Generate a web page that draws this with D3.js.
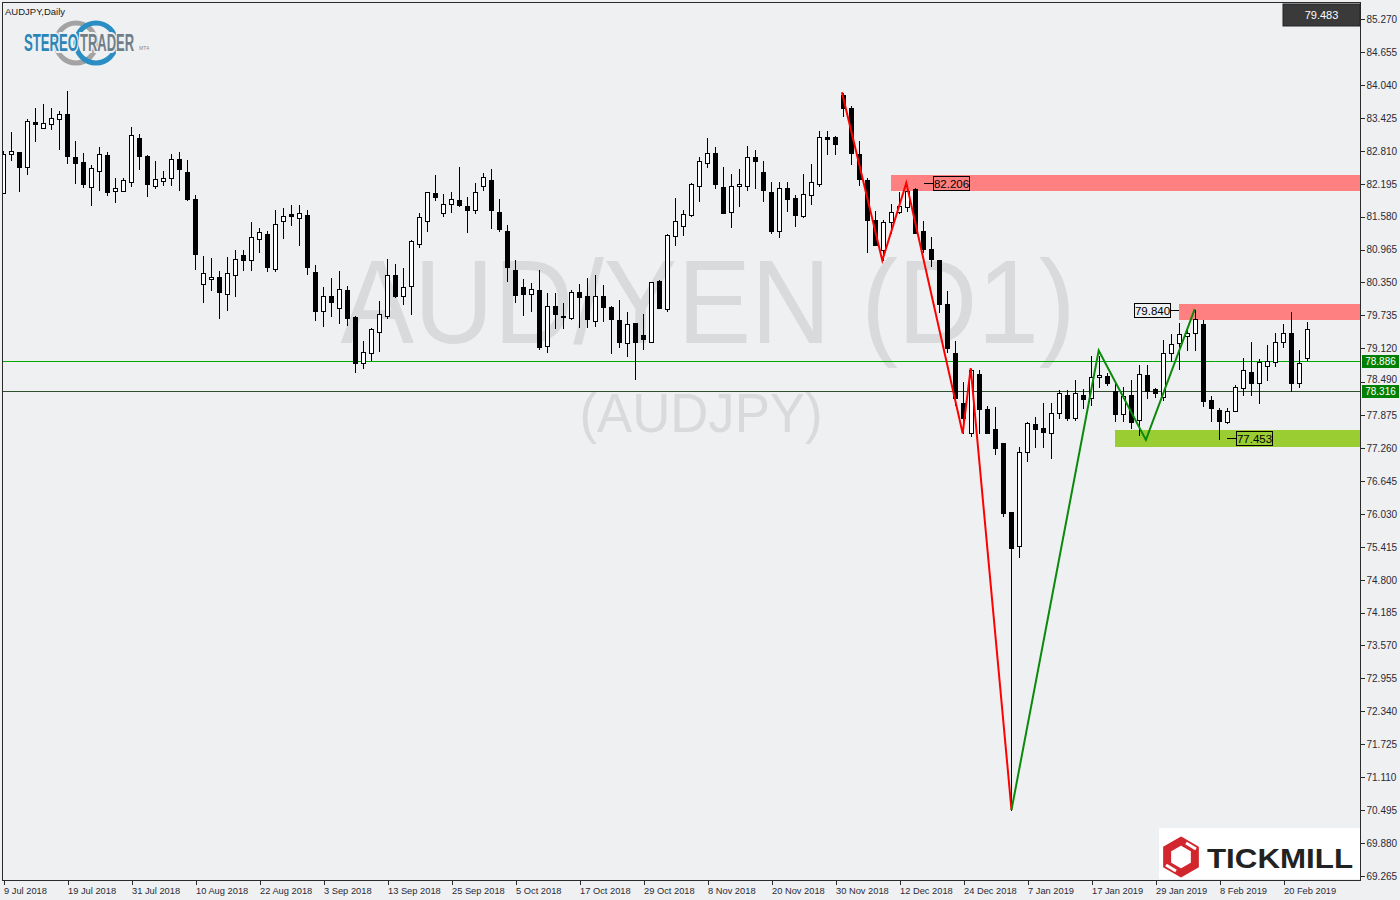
<!DOCTYPE html>
<html><head><meta charset="utf-8">
<script src="https://cdn.jsdelivr.net/npm/d3@7"></script>
<style>
html,body{margin:0;padding:0;background:#eff0f2;}
svg{display:block;font-family:"Liberation Sans",Arial,sans-serif;}
</style></head><body>
<svg id="chart" width="1400" height="900"></svg>
<script>
const symbolTitle = "AUDJPY,Daily";
const watermarkMain = "AUD/YEN (D1)";
const watermarkSub = "(AUDJPY)";
const dateTickLabels = ["9 Jul 2018","19 Jul 2018","31 Jul 2018","10 Aug 2018","22 Aug 2018","3 Sep 2018","13 Sep 2018","25 Sep 2018","5 Oct 2018","17 Oct 2018","29 Oct 2018","8 Nov 2018","20 Nov 2018","30 Nov 2018","12 Dec 2018","24 Dec 2018","7 Jan 2019","17 Jan 2019","29 Jan 2019","8 Feb 2019","20 Feb 2019"];
const dateTickBars = [0,8,16,24,32,40,48,56,64,72,80,88,96,104,112,120,128,136,144,152,160];
const priceTickLabels = ["85.270","84.655","84.040","83.425","82.810","82.195","81.580","80.965","80.350","79.735","79.120","78.490","77.875","77.260","76.645","76.030","75.415","74.800","74.185","73.570","72.955","72.340","71.725","71.110","70.495","69.880","69.265"];

const openP = [82.02,82.74,82.79,82.50,83.35,83.23,83.30,83.40,83.50,82.69,82.60,82.14,82.44,82.73,82.05,82.05,82.22,83.04,82.72,82.16,
82.24,82.30,82.65,82.41,81.90,80.32,80.41,80.45,80.13,80.48,80.86,80.76,81.17,81.26,80.61,81.50,81.63,81.56,81.61,80.55,
79.82,80.10,79.88,80.21,79.70,78.84,79.03,79.43,79.73,80.48,80.09,80.29,81.06,81.49,82.02,81.64,81.81,81.89,81.77,81.71,
82.16,82.26,81.67,81.31,80.58,80.27,80.13,80.21,79.16,79.91,79.73,79.69,80.17,80.10,79.63,80.10,79.89,79.65,79.21,79.59,
79.37,79.24,80.37,79.86,81.22,81.40,81.61,82.16,82.59,82.77,82.13,81.66,82.15,82.16,82.69,82.41,82.03,81.32,82.11,81.93,
81.60,81.99,82.19,83.06,83.07,83.85,83.60,82.75,82.26,81.52,80.96,81.47,81.67,81.76,82.09,81.31,80.97,80.77,79.95,79.04,
78.09,77.53,78.64,77.98,77.61,77.35,76.06,75.42,77.18,77.70,77.64,77.53,77.91,78.25,77.82,78.25,78.19,78.58,78.60,78.32,
77.89,78.24,77.78,78.62,78.36,78.21,79.03,79.21,79.35,79.40,79.58,78.16,77.96,77.75,77.94,78.37,78.68,78.48,78.79,78.86,
79.24,79.41,78.48,78.94];
const highP = [82.82,83.18,82.79,83.42,83.63,83.70,83.62,83.57,83.94,83.01,82.79,82.57,82.90,82.81,82.32,82.32,83.27,83.15,82.75,82.64,
82.45,82.77,82.81,82.66,82.00,80.86,80.83,80.58,80.84,80.97,80.97,81.50,81.38,81.33,81.72,81.76,81.81,81.82,81.72,80.69,
80.28,80.45,80.58,80.30,79.74,79.28,79.52,80.02,80.81,80.71,80.63,81.16,81.67,82.03,82.38,82.02,82.05,82.53,81.97,82.22,
82.41,82.48,81.93,81.44,80.79,80.43,80.35,80.60,80.17,80.17,79.98,80.23,80.34,80.45,80.51,80.32,79.92,80.04,79.81,79.61,
79.78,80.38,80.42,81.27,81.95,81.72,82.23,82.71,83.07,82.90,82.53,82.39,82.49,82.92,82.84,82.64,82.24,82.24,82.24,82.00,
82.39,82.58,83.20,83.20,83.10,83.90,83.67,83.01,82.32,81.70,81.53,81.84,82.06,82.19,82.13,81.52,81.22,80.79,80.21,79.28,
78.51,78.75,78.73,78.06,78.05,77.35,76.06,77.30,77.76,77.86,78.11,78.12,78.36,78.36,78.54,78.37,79.00,79.00,78.67,78.53,
78.42,78.54,78.83,78.83,78.40,79.29,79.40,79.62,79.50,79.85,79.66,78.25,78.02,78.02,78.45,78.96,79.26,78.93,79.20,79.42,
79.60,79.82,79.10,79.63];
const lowP = [82.02,82.64,82.06,82.38,83.00,83.23,83.22,82.85,82.59,82.21,82.14,81.80,82.08,81.98,81.86,82.05,82.16,82.47,81.97,82.12,
82.17,82.17,82.08,81.89,80.61,79.99,80.21,79.69,79.84,80.10,80.58,80.58,80.91,80.57,80.57,81.18,81.43,81.05,80.50,79.64,
79.53,79.73,79.60,79.56,78.68,78.76,78.90,79.07,79.68,80.08,79.95,79.77,81.02,81.32,81.89,81.60,81.67,81.77,81.30,81.64,
82.07,81.37,81.32,80.38,79.99,79.75,79.82,79.10,79.06,79.49,79.49,79.67,79.51,79.51,79.53,79.63,79.04,79.15,78.98,78.55,
79.10,79.24,79.87,79.81,81.04,81.24,81.60,81.88,82.51,82.12,81.65,81.39,81.78,82.08,82.12,81.88,81.27,81.19,81.69,81.41,
81.58,81.82,82.16,82.75,82.74,83.46,82.57,82.17,80.92,81.04,80.77,81.27,81.65,81.69,81.27,80.92,80.66,79.80,79.05,78.06,
77.53,77.48,77.53,77.53,77.15,75.98,70.50,75.23,77.02,77.28,77.28,77.08,77.81,77.78,77.78,78.01,78.06,78.40,78.44,77.77,
77.77,77.64,77.51,78.20,78.21,78.16,78.88,78.74,79.09,79.09,78.04,77.76,77.43,77.73,77.94,78.24,78.24,78.09,78.52,78.79,
79.15,78.33,78.40,78.90];
const closeP = [82.75,82.80,82.51,83.36,83.31,83.32,83.42,83.49,82.72,82.59,82.19,82.48,82.74,82.04,82.11,82.26,83.10,82.72,82.19,82.28,
82.30,82.65,82.46,81.91,80.88,80.52,80.45,80.17,80.52,80.79,80.77,81.19,81.29,80.64,81.44,81.60,81.60,81.65,80.63,79.82,
80.10,79.99,80.22,79.69,78.84,79.06,79.48,79.77,80.48,80.10,80.27,81.12,81.57,82.03,81.95,81.81,81.90,81.80,81.71,82.03,
82.31,81.71,81.35,80.64,80.12,80.14,80.22,79.15,79.91,79.77,79.70,80.17,80.07,79.66,80.10,79.90,79.67,79.24,79.57,79.24,
79.30,80.35,79.88,81.23,81.49,81.62,82.18,82.61,82.76,82.18,81.65,82.15,82.18,82.69,82.62,82.08,81.32,82.11,81.90,81.61,
82.00,82.22,83.06,83.03,82.94,83.61,82.77,82.29,81.51,81.04,81.47,81.67,81.78,82.06,81.28,80.97,80.79,79.95,79.13,78.20,
77.81,78.72,77.99,77.54,77.25,76.05,75.39,77.19,77.72,77.62,77.55,77.91,78.28,77.82,78.28,78.18,78.58,78.62,78.48,77.89,
78.23,77.74,78.64,78.33,78.28,79.03,79.20,79.39,79.41,79.66,78.14,78.00,77.77,77.94,78.39,78.72,78.48,78.86,78.89,79.24,
79.41,78.48,78.85,79.483];

const lastPrice = 79.483;
const levelLines = [78.886, 78.316];
const zoneStartBars = [110.9, 146.9, 138.9];
const zoneHighs = [82.36, 79.95, 77.60];
const zoneLows = [82.05, 79.65, 77.28];
const markValues = [82.206, 79.840, 77.453];
const markBars = [115, 146.9, 153];
const redZigBars = [104.8, 109.85, 112.85, 119.9, 120.9, 126];
const redZigPrices = [83.90, 80.76, 82.21, 77.53, 78.75, 70.50];
const greenZigBars = [126, 136.9, 142.8, 148.9];
const greenZigPrices = [70.50, 79.08, 77.41, 79.85];

// ---------- drawing ----------
const BG = "#eff0f2";
const plotL = 2, plotR = 1360, plotT = 2, plotB = 880;
const svg = d3.select("#chart");
const x = d3.scaleLinear().domain([0, 169]).range([3.5, 1355.5]);
const y = d3.scaleLinear().domain([69.265, 85.270]).range([876, 19]);

svg.append("rect").attr("width", 1400).attr("height", 900).attr("fill", BG);
svg.append("defs").append("clipPath").attr("id", "plotclip")
  .append("rect").attr("x", plotL).attr("y", plotT).attr("width", plotR - plotL).attr("height", plotB - plotT);

const plot = svg.append("g").attr("clip-path", "url(#plotclip)");

// watermark
plot.append("text").attr("x", 708).attr("y", 343).attr("text-anchor", "middle")
  .attr("font-size", 119).attr("fill", "#d9dadc").attr("textLength", 735).attr("lengthAdjust", "spacingAndGlyphs")
  .text(watermarkMain);
plot.append("text").attr("x", 701).attr("y", 432).attr("text-anchor", "middle")
  .attr("font-size", 56).attr("fill", "#d9dadc").attr("textLength", 243).attr("lengthAdjust", "spacingAndGlyphs")
  .text(watermarkSub);

// zones
const zoneColors = ["#ff8080", "#ff8080", "#9acd32"];
zoneStartBars.forEach((b, i) => {
  plot.append("rect").attr("x", Math.round(x(b))).attr("y", Math.round(y(zoneHighs[i])))
    .attr("width", plotR - Math.round(x(b))).attr("height", Math.round(y(zoneLows[i])) - Math.round(y(zoneHighs[i])))
    .attr("fill", zoneColors[i]);
});

// level lines
const levelColors = ["#00a800", "#2f4f2f"];
levelLines.forEach((v, i) => {
  const yy = Math.round(y(v)) + 0.5;
  plot.append("line").attr("x1", plotL).attr("x2", plotR).attr("y1", yy).attr("y2", yy)
    .attr("stroke", levelColors[i]).attr("stroke-width", 1).attr("shape-rendering", "crispEdges");
});

// candles
const bars = openP.map((o, i) => ({i, o, h: highP[i], l: lowP[i], c: closeP[i]}));
const cg = plot.append("g").attr("shape-rendering", "crispEdges");
cg.selectAll("line.wick").data(bars).join("line").attr("class", "wick")
  .attr("x1", d => x(d.i)).attr("x2", d => x(d.i))
  .attr("y1", d => Math.round(y(d.h)) + 0.5).attr("y2", d => Math.round(y(d.l)) + 0.5)
  .attr("stroke", "#000").attr("stroke-width", 1);
cg.selectAll("rect.body").data(bars).join("rect").attr("class", "body")
  .attr("x", d => x(d.i) - 2).attr("width", 4)
  .attr("y", d => Math.round(y(Math.max(d.o, d.c))) + 0.5)
  .attr("height", d => Math.max(1, Math.round(y(Math.min(d.o, d.c))) - Math.round(y(Math.max(d.o, d.c)))))
  .attr("fill", d => d.c >= d.o ? "#ffffff" : "#000000")
  .attr("stroke", "#000").attr("stroke-width", 1);

// zigzags
const zz = d3.line().x(d => x(d[0])).y(d => y(d[1]));
plot.append("path").attr("d", zz(redZigBars.map((b, i) => [b, redZigPrices[i]])))
  .attr("fill", "none").attr("stroke", "#ff0000").attr("stroke-width", 2);
plot.append("path").attr("d", zz(greenZigBars.map((b, i) => [b, greenZigPrices[i]])))
  .attr("fill", "none").attr("stroke", "#0a8a0a").attr("stroke-width", 2);

// value marks
const markSide = [1, -1, 1];
markValues.forEach((v, i) => {
  const yy = Math.round(y(v)) + 0.5;
  const x0 = Math.round(x(markBars[i]));
  const bw = 36, bh = 14, ll = 9;
  const lineEnd = x0 + markSide[i] * ll;
  plot.append("line").attr("x1", x0).attr("x2", lineEnd).attr("y1", yy).attr("y2", yy)
    .attr("stroke", "#000").attr("stroke-width", 1).attr("shape-rendering", "crispEdges");
  const bx = markSide[i] > 0 ? lineEnd : lineEnd - bw;
  plot.append("rect").attr("x", bx + 0.5).attr("y", yy - bh / 2).attr("width", bw).attr("height", bh)
    .attr("fill", "none").attr("stroke", "#000").attr("stroke-width", 1).attr("shape-rendering", "crispEdges");
  plot.append("text").attr("x", bx + bw / 2 + 0.5).attr("y", yy + 4).attr("text-anchor", "middle")
    .attr("font-size", 11.5).attr("fill", "#000").text(v.toFixed(3));
});

// frame
svg.append("rect").attr("x", plotL + 0.5).attr("y", plotT + 0.5).attr("width", plotR - plotL).attr("height", plotB - plotT)
  .attr("fill", "none").attr("stroke", "#2b2b2b").attr("stroke-width", 1).attr("shape-rendering", "crispEdges");

// right axis
const ra = svg.append("g").attr("transform", `translate(${plotR + 0.5},0)`)
  .call(d3.axisRight(y).tickValues(priceTickLabels.map(Number)).tickFormat((d, i) => priceTickLabels[i]).tickSize(4).tickPadding(2));
ra.select(".domain").remove();
ra.selectAll("line").attr("stroke", "#2b2b2b").attr("shape-rendering", "crispEdges");
ra.selectAll("text").attr("font-size", 10).attr("fill", "#2a2a35").attr("font-family", "Liberation Sans, Arial, sans-serif")
  .attr("dy", "0.34em").filter(function () { return this.textContent === "78.490"; }).attr("dy", "0.0em");

// level labels on axis
levelLines.forEach((v, i) => {
  const yy = y(v);
  svg.append("rect").attr("x", plotR + 2).attr("y", Math.round(yy) - 6).attr("width", 37).attr("height", 13)
    .attr("fill", "#008000");
  svg.append("text").attr("x", plotR + 20.5).attr("y", Math.round(yy) + 4).attr("text-anchor", "middle")
    .attr("font-size", 10).attr("fill", "#ffffff").text(v.toFixed(3));
});

// last price box
svg.append("rect").attr("x", 1283).attr("y", 4).attr("width", 77).attr("height", 22).attr("fill", "#3a3a3a")
  .attr("stroke", "#222");
svg.append("text").attr("x", 1321.5).attr("y", 19).attr("text-anchor", "middle").attr("font-size", 11)
  .attr("fill", "#ffffff").text(lastPrice.toFixed(3));

// bottom axis
const ba = svg.append("g").attr("transform", `translate(0,${plotB + 0.5})`)
  .call(d3.axisBottom(x).tickValues(dateTickBars).tickFormat((d, i) => dateTickLabels[i]).tickSize(4).tickPadding(3));
ba.select(".domain").remove();
ba.selectAll("line").attr("stroke", "#2b2b2b").attr("shape-rendering", "crispEdges");
ba.selectAll("text").attr("text-anchor", "start").attr("x", 0).attr("font-size", 9.3)
  .attr("fill", "#2a2a35").attr("font-family", "Liberation Sans, Arial, sans-serif");

// title
svg.append("text").attr("x", 5).attr("y", 15).attr("font-size", 9.5).attr("fill", "#1a1a1a").text(symbolTitle);

// StereoTrader logo
const lg = svg.append("g");
lg.append("circle").attr("cx", 76).attr("cy", 43).attr("r", 20).attr("fill", "none").attr("stroke", "#a3a3a3").attr("stroke-width", 5);
lg.append("circle").attr("cx", 96).attr("cy", 43).attr("r", 20).attr("fill", "none").attr("stroke", "#2a8ec4").attr("stroke-width", 5);
const lw = lg.append("g").attr("transform", "translate(24,51) scale(1,1.9)");
lw.append("text").attr("x", 0).attr("y", 0).attr("font-size", 13).attr("font-weight", "bold")
  .attr("textLength", 54).attr("lengthAdjust", "spacingAndGlyphs")
  .attr("stroke", BG).attr("stroke-width", 2.2).attr("paint-order", "stroke").attr("fill", "#2a86b8").text("STEREO");
lw.append("text").attr("x", 56).attr("y", 0).attr("font-size", 13).attr("font-weight", "bold")
  .attr("textLength", 54).attr("lengthAdjust", "spacingAndGlyphs")
  .attr("stroke", BG).attr("stroke-width", 2.2).attr("paint-order", "stroke").attr("fill", "#6f7f8a").text("TRADER");
lg.append("text").attr("x", 139).attr("y", 50).attr("font-size", 5).attr("fill", "#888").text("MT4");

// Tickmill logo
const tk = svg.append("g");
tk.append("rect").attr("x", 1159).attr("y", 828).attr("width", 201).attr("height", 51).attr("fill", "#ffffff");
const hex = d3.range(6).map(k => {
  const a = Math.PI / 3 * k - Math.PI / 2;
  return [1181 + 16 * Math.cos(a), 857 + 16 * Math.sin(a)];
});
tk.append("polygon").attr("points", hex.map(p => p.join(",")).join(" "))
  .attr("fill", "none").attr("stroke", "#d1262d").attr("stroke-width", 8).attr("stroke-linejoin", "miter");
tk.append("line").attr("x1", 1186).attr("y1", 843).attr("x2", 1196).attr("y2", 849).attr("stroke", "#fff").attr("stroke-width", 3);
tk.append("line").attr("x1", 1166).attr("y1", 865).attr("x2", 1176).attr("y2", 871).attr("stroke", "#fff").attr("stroke-width", 3);
tk.append("text").attr("x", 1207).attr("y", 868).attr("font-size", 28).attr("font-weight", "bold")
  .attr("fill", "#222").attr("textLength", 146).attr("lengthAdjust", "spacingAndGlyphs").text("TICKMILL");
</script>
</body></html>
